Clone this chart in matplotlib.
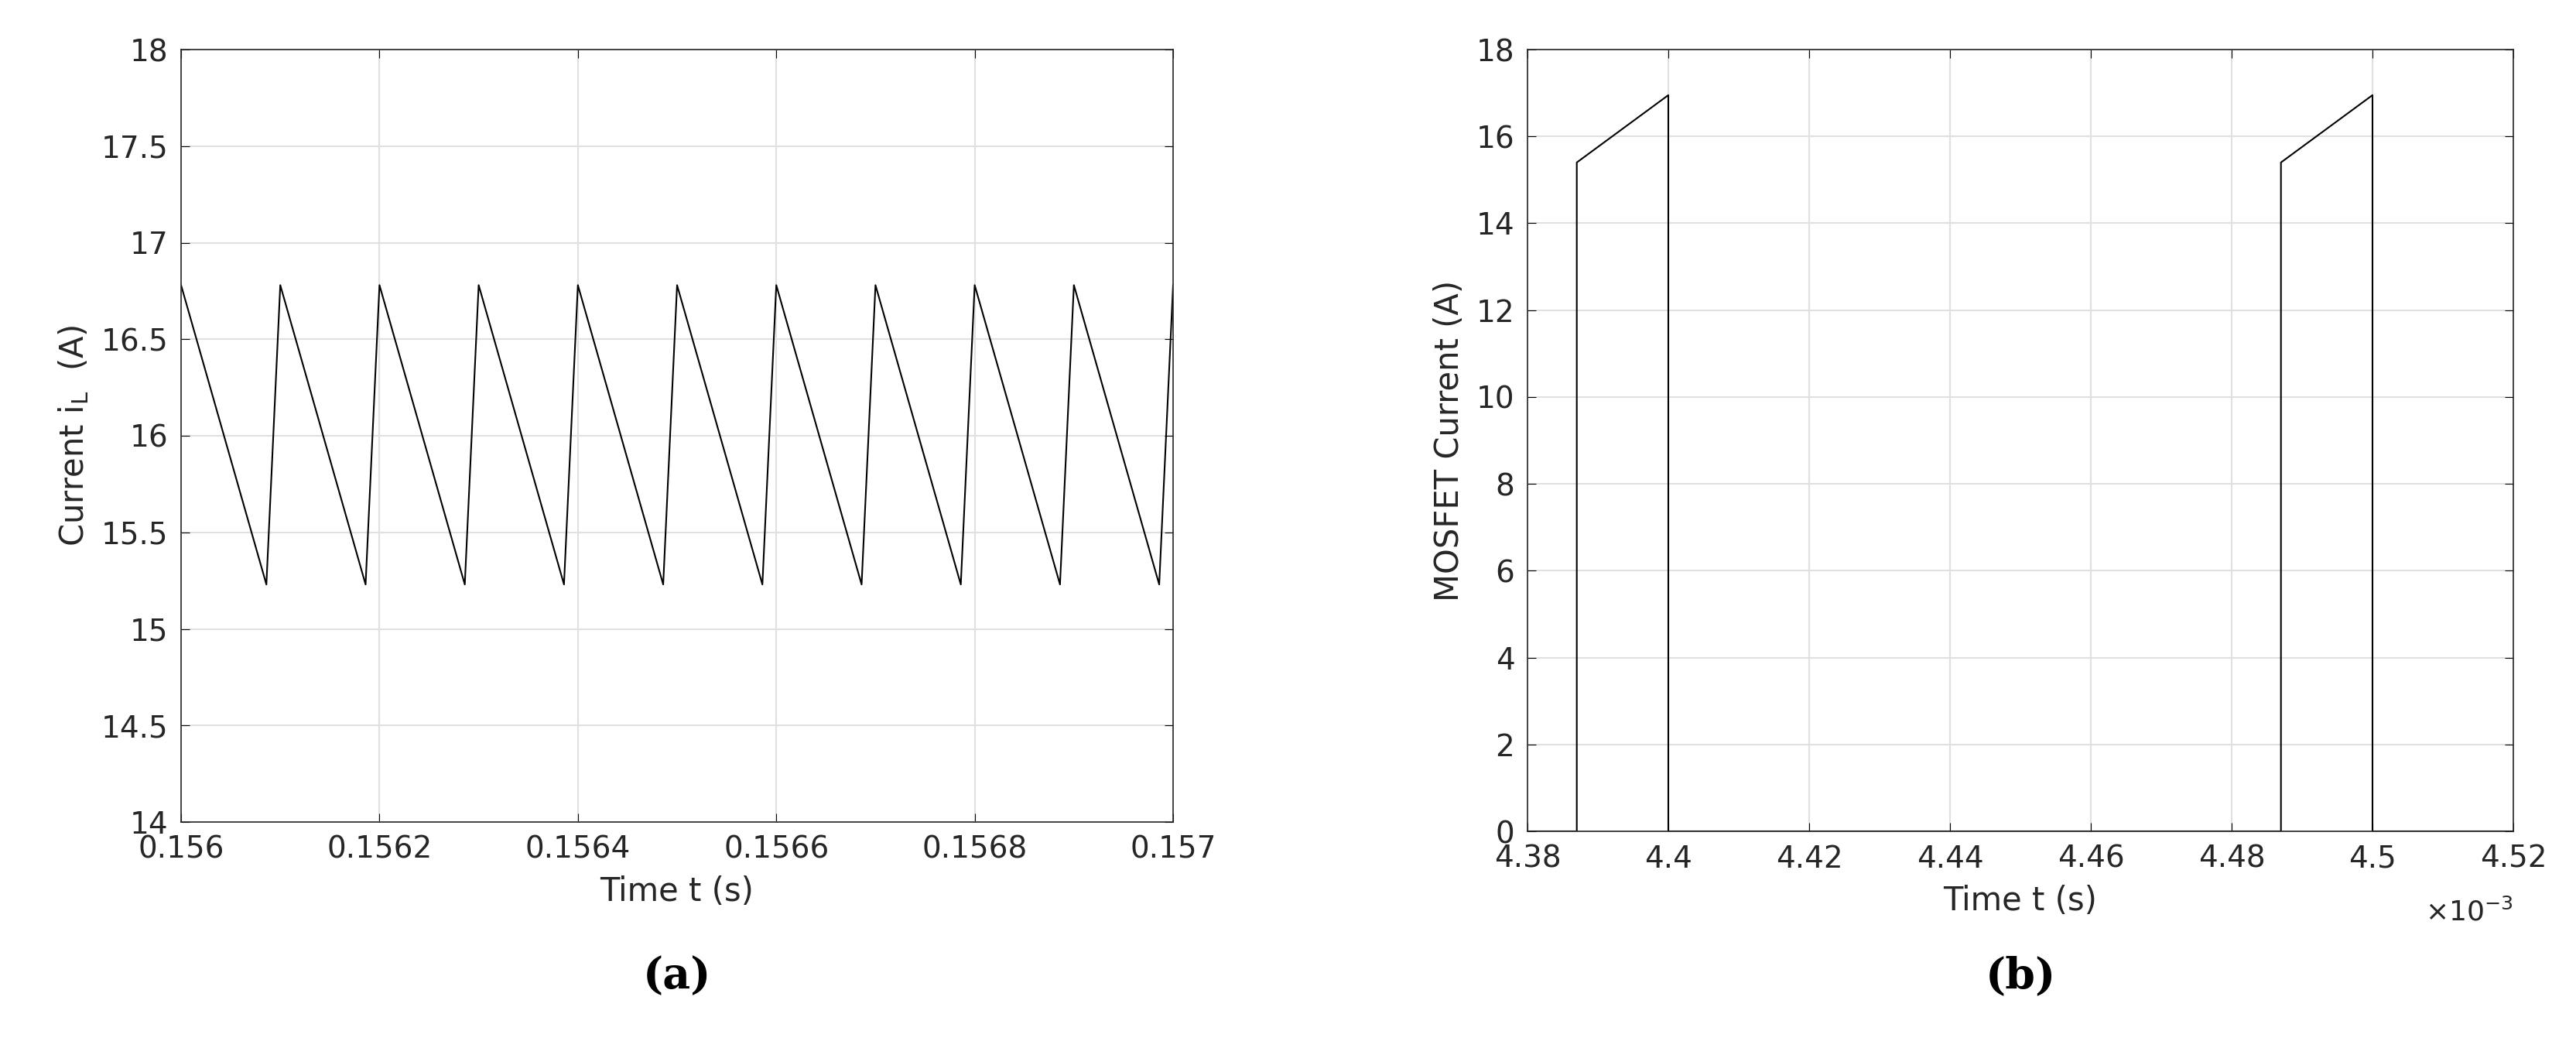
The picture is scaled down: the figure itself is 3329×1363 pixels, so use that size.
import matplotlib
matplotlib.use("Agg")
import matplotlib.pyplot as plt

# Panel (a) inductor current waveform vertices
t_a = [0.156, 0.156086, 0.1561, 0.156186, 0.1562, 0.156286, 0.1563, 0.156386, 0.1564,
       0.156486, 0.1565, 0.156586, 0.1566, 0.156686, 0.1567, 0.156786, 0.1568,
       0.156886, 0.1569, 0.156986, 0.157]
i_a = [16.78, 15.23, 16.78, 15.23, 16.78, 15.23, 16.78, 15.23, 16.78, 15.23, 16.78,
       15.23, 16.78, 15.23, 16.78, 15.23, 16.78, 15.23, 16.78, 15.23, 16.78]

# Panel (b) MOSFET current vertices
t_b = [4.38e-3, 4.387e-3, 4.387e-3, 4.4e-3, 4.4e-3, 4.487e-3, 4.487e-3, 4.5e-3, 4.5e-3, 4.52e-3]
i_b = [0, 0, 15.4, 16.95, 0, 0, 15.4, 16.95, 0, 0]

plt.rcParams['font.family'] = ['DejaVu Sans']
fig = plt.figure(figsize=(33.29, 13.63), dpi=100)
ax1 = fig.add_axes([234/3329, 1-1062/1363, (1516-234)/3329, (1062-64)/1363])
ax2 = fig.add_axes([1974/3329, 1-1074/1363, (3248-1974)/3329, (1074-64)/1363])

for ax in (ax1, ax2):
    ax.grid(True, color='#e0e0e0', linewidth=1.5)
    ax.set_axisbelow(True)
    ax.tick_params(labelsize=28, direction='in', length=8, top=True, right=True, pad=12,
                   labelcolor='#262626')
    for s in ax.spines.values():
        s.set_linewidth(1.2)
        s.set_color('#262626')

ax1.plot(t_a, i_a, color='black', linewidth=1.5)
ax1.set_xlim(0.156, 0.157)
ax1.set_ylim(14, 18)
ax1.set_xticks([0.156, 0.1562, 0.1564, 0.1566, 0.1568, 0.157])
ax1.set_xticklabels(['0.156', '0.1562', '0.1564', '0.1566', '0.1568', '0.157'])
ax1.set_yticks([14, 14.5, 15, 15.5, 16, 16.5, 17, 17.5, 18])
ax1.set_yticklabels(['14', '14.5', '15', '15.5', '16', '16.5', '17', '17.5', '18'])
ax1.set_xlabel('Time t (s)', fontsize=30, color='#262626', labelpad=10)
ax1.set_ylabel('Current i$_\\mathregular{L}$  (A)', fontsize=30, color='#262626', labelpad=10)

ax2.plot(t_b, i_b, color='black', linewidth=1.5)
ax2.set_xlim(4.38e-3, 4.52e-3)
ax2.set_ylim(0, 18)
ax2.set_xticks([4.38e-3 + 0.02e-3 * k for k in range(8)])
ax2.set_xticklabels(['4.38', '4.4', '4.42', '4.44', '4.46', '4.48', '4.5', '4.52'])
ax2.set_yticks(range(0, 19, 2))
ax2.set_xlabel('Time t (s)', fontsize=30, color='#262626', labelpad=10)
ax2.set_ylabel('MOSFET Current (A)', fontsize=30, color='#262626', labelpad=10)
ax2.text(1.0, -0.085, '$\\times10^{-3}$', transform=ax2.transAxes, fontsize=26, ha='right', va='top', color='#262626')

fig.text((234+1516)/2/3329, 1-1262/1363, '(a)', fontsize=40, fontweight='bold', family='DejaVu Serif', ha='center', va='center')
fig.text((1974+3248)/2/3329, 1-1262/1363, '(b)', fontsize=40, fontweight='bold', family='DejaVu Serif', ha='center', va='center')

fig.savefig('out.png', dpi=100, facecolor='white')
